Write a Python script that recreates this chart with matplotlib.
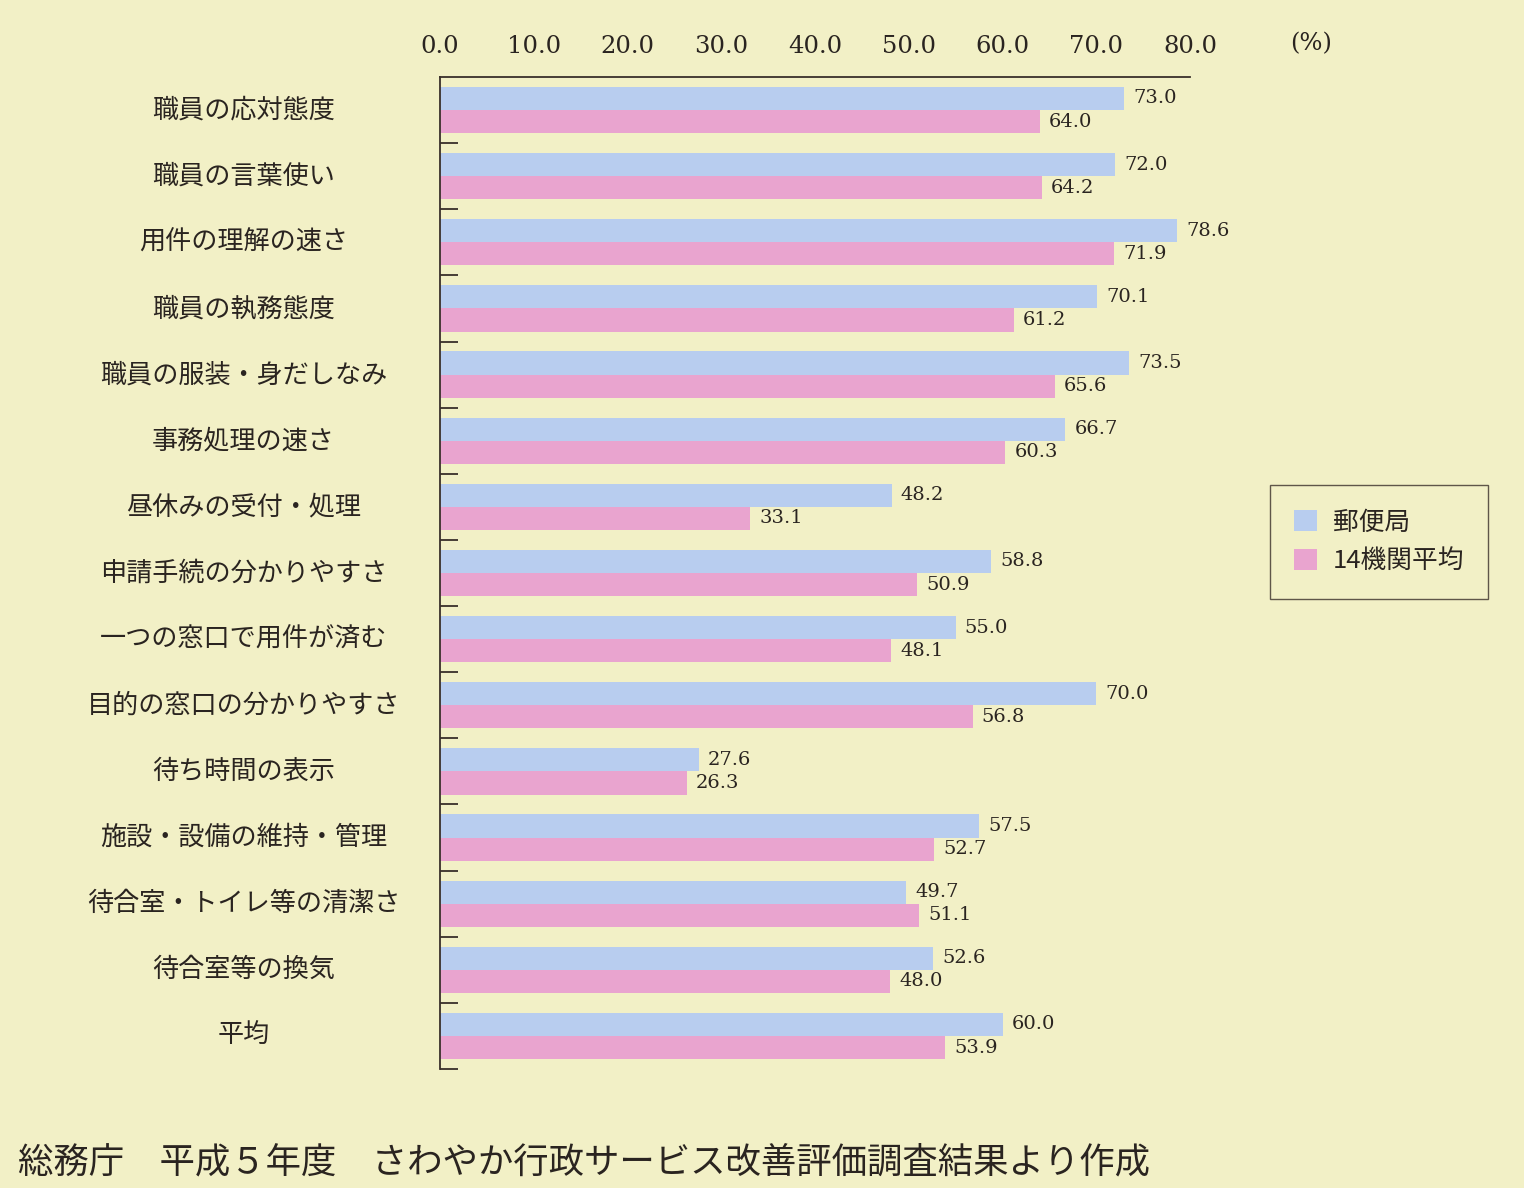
import matplotlib
matplotlib.use("Agg")
import matplotlib.pyplot as plt
from matplotlib.patches import Patch
import numpy as np

categories = ["職員の応対態度", "職員の言葉使い", "用件の理解の速さ", "職員の執務態度",
              "職員の服装・身だしなみ", "事務処理の速さ", "昼休みの受付・処理",
              "申請手続の分かりやすさ", "一つの窓口で用件が済む", "目的の窓口の分かりやすさ",
              "待ち時間の表示", "施設・設備の維持・管理", "待合室・トイレ等の清潔さ",
              "待合室等の換気", "平均"]
post_office = [73.0, 72.0, 78.6, 70.1, 73.5, 66.7, 48.2, 58.8, 55.0, 70.0, 27.6, 57.5, 49.7, 52.6, 60.0]
avg14 = [64.0, 64.2, 71.9, 61.2, 65.6, 60.3, 33.1, 50.9, 48.1, 56.8, 26.3, 52.7, 51.1, 48.0, 53.9]
series_names = ["郵便局", "14機関平均"]
xticks = [0, 10, 20, 30, 40, 50, 60, 70, 80]
footer = "総務庁　平成５年度　さわやか行政サービス改善評価調査結果より作成"

BG = "#f2f0c6"
BLUE = "#b8cdef"
PINK = "#e9a4cf"
CJK = ["Noto Sans CJK JP", "DejaVu Sans"]
SERIF = ["DejaVu Serif"]
TXT = "#2a2420"

fig = plt.figure(figsize=(15.24, 11.88), dpi=100, facecolor=BG)
ax = fig.add_axes([440/1524, 1-1069/1188, (1190-440)/1524, (1069-77)/1188])
ax.set_facecolor(BG)
ax.patch.set_alpha(0)

y = np.arange(len(categories))
h = 0.35
ax.barh(y - h/2, post_office, height=h, color=BLUE, clip_on=False)
ax.barh(y + h/2, avg14, height=h, color=PINK, clip_on=False)

for yi, v in zip(y, post_office):
    ax.annotate(f"{v:.1f}", (v, yi - h/2), xytext=(6.5, 0), textcoords="offset points",
                va="center", ha="left", fontsize=14, family=SERIF, color=TXT,
                annotation_clip=False)
for yi, v in zip(y, avg14):
    ax.annotate(f"{v:.1f}", (v, yi + h/2), xytext=(6.5, 0), textcoords="offset points",
                va="center", ha="left", fontsize=14, family=SERIF, color=TXT,
                annotation_clip=False)

ax.set_xlim(0, 80)
ax.set_ylim(len(categories) - 0.5, -0.5)

# x axis on top, labels only
ax.xaxis.tick_top()
ax.set_xticks(xticks)
ax.set_xticklabels([f"{t:.1f}" for t in xticks], family=SERIF, fontsize=17.5, color=TXT)
ax.tick_params(axis="x", length=0, pad=13.5)
fig.text(1311/1524, 1-44/1188, "(%)", ha="center", va="center",
         fontsize=17.5, family=SERIF, color=TXT)

# y: boundary ticks pointing inward
ax.set_yticks(np.arange(len(categories)) + 0.5)
ax.set_yticklabels([])
ax.tick_params(axis="y", direction="in", length=13, width=1.3, color="#3a302a")
for yi, c in zip(y, categories):
    ax.text(-0.262, yi, c, transform=ax.get_yaxis_transform(), ha="center", va="center",
            fontsize=18.8, family=CJK, color=TXT)

for s in ["right", "bottom"]:
    ax.spines[s].set_visible(False)
for s in ["left", "top"]:
    ax.spines[s].set_color("#3a302a")
    ax.spines[s].set_linewidth(1.3)

handles = [Patch(facecolor=BLUE, edgecolor="none"), Patch(facecolor=PINK, edgecolor="none")]
leg = fig.legend(handles, series_names, loc="center", bbox_to_anchor=(1379/1524, 1-542/1188),
                 prop={"family": CJK, "size": 18.5}, frameon=True, fancybox=False,
                 handlelength=0.9, handleheight=0.9, handletextpad=0.6,
                 borderpad=0.95, labelspacing=0.5, borderaxespad=0)
leg.get_frame().set_edgecolor("#3a302a")
leg.get_frame().set_facecolor(BG)
leg.get_frame().set_linewidth(1.0)
for t in leg.get_texts():
    t.set_color(TXT)

fig.text(18/1524, 1-1162/1188, footer, ha="left", va="center", fontsize=25.5,
         family=CJK, color=TXT)

fig.savefig("out.png", dpi=100, facecolor=BG)
